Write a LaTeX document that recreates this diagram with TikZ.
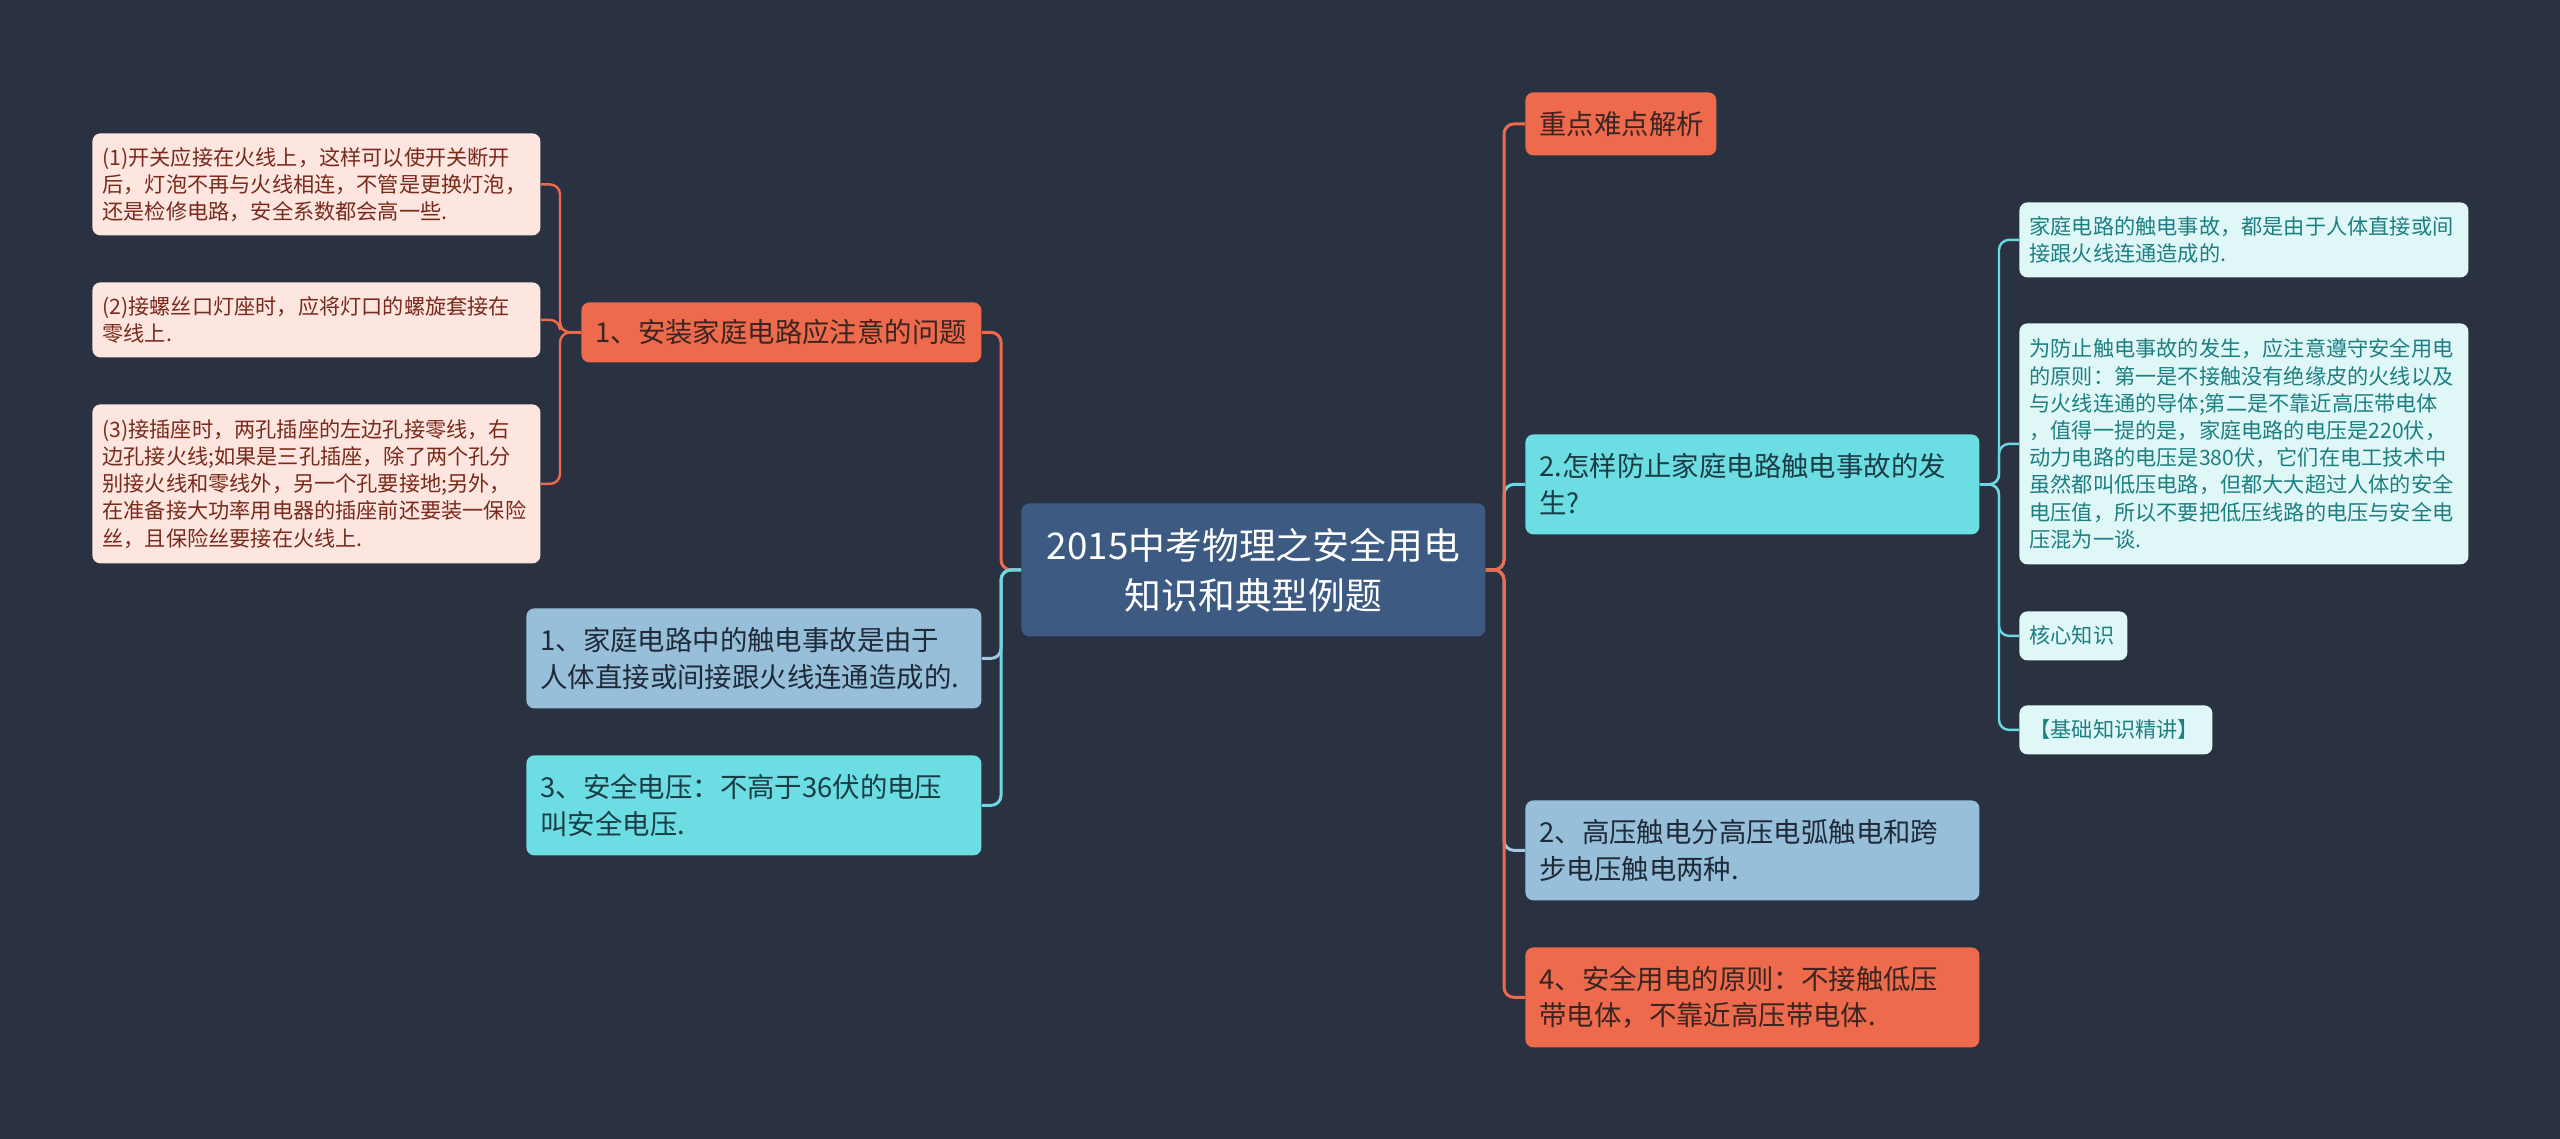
\documentclass[tikz,border=0pt]{standalone}
\usepackage{fontspec}
\setmainfont{Noto Sans CJK SC}
\definecolor{bgc}{HTML}{2A3140}
\definecolor{orangec}{HTML}{EE6A4D}
\definecolor{orangetxt}{HTML}{3A2520}
\definecolor{leafLfill}{HTML}{FDE6DF}
\definecolor{leafLtxt}{HTML}{7A2A1B}
\definecolor{lbluefill}{HTML}{98BFD9}
\definecolor{lbluetxt}{HTML}{1E2A38}
\definecolor{cyanfill}{HTML}{6BDDE3}
\definecolor{cyantxt}{HTML}{1A3C44}
\definecolor{leafRfill}{HTML}{E0F7F8}
\definecolor{leafRtxt}{HTML}{1C7F82}
\definecolor{rootfill}{HTML}{3D5B82}
\definecolor{cyanline}{HTML}{6CD8E2}
\definecolor{lblueline}{HTML}{A3C7DD}
\begin{document}
\begin{tikzpicture}[x=0.5pt,y=-0.5pt,
  box/.style={anchor=north west, rounded corners=4pt, align=left, inner ysep=0pt},
  rootbox/.style={box, fill=rootfill, text=white, align=center,
    font=\fontsize{18.4pt}{25pt}\selectfont},
  mainbox/.style={box, inner xsep=7pt, font=\fontsize{13.7pt}{18.4pt}\selectfont},
  orangebox/.style={mainbox, fill=orangec, text=orangetxt},
  lbluebox/.style={mainbox, fill=lbluefill, text=lbluetxt},
  cyanbox/.style={mainbox, fill=cyanfill, text=cyantxt},
  leafbox/.style={box, inner xsep=5pt, font=\fontsize{10.6pt}{13.6pt}\selectfont},
  leafL/.style={leafbox, fill=leafLfill, text=leafLtxt},
  leafR/.style={leafbox, fill=leafRfill, text=leafRtxt},
  conn/.style={line width=1.5pt, rounded corners=5pt},
  leafconn/.style={line width=1.2pt, rounded corners=5pt}
]
\fill[bgc] (0,0) rectangle (2560,1139);
\useasboundingbox (0,0) rectangle (2560,1139);

% root
\node[rootbox, minimum width=232pt, minimum height=66.5pt] (root) at (1021,503)
  {2015中考物理之安全用电\\知识和典型例题};

% left main branches
\node[orangebox, text width=186pt, minimum height=30pt] (A1) at (581,302)
  {1、安装家庭电路应注意的问题};
\node[lbluebox, text width=213.5pt, minimum height=50pt] (A2) at (526,608)
  {1、家庭电路中的触电事故是由于\\人体直接或间接跟火线连通造成的.};
\node[cyanbox, text width=213.5pt, minimum height=50pt] (A3) at (526,755)
  {3、安全电压：不高于36伏的电压\\叫安全电压.};

% left leaves
\node[leafL, text width=214pt, minimum height=51pt] (L1) at (92,133)
  {(1)开关应接在火线上，这样可以使开关断开\\后，灯泡不再与火线相连，不管是更换灯泡，\\还是检修电路，安全系数都会高一些.};
\node[leafL, text width=214pt, minimum height=37.5pt] (L2) at (92,282)
  {(2)接螺丝口灯座时，应将灯口的螺旋套接在\\零线上.};
\node[leafL, text width=214pt, minimum height=79.5pt] (L3) at (92,404)
  {(3)接插座时，两孔插座的左边孔接零线，右\\边孔接火线;如果是三孔插座，除了两个孔分\\别接火线和零线外，另一个孔要接地;另外，\\在准备接大功率用电器的插座前还要装一保险\\丝，且保险丝要接在火线上.};

% right main branches
\node[orangebox, text width=81.5pt, minimum height=31.5pt] (B1) at (1525,92)
  {重点难点解析};
\node[cyanbox, text width=213pt, minimum height=50pt] (B2) at (1525,434)
  {2.怎样防止家庭电路触电事故的发\\生?};
\node[lbluebox, text width=213pt, minimum height=50pt] (B3) at (1525,800)
  {2、高压触电分高压电弧触电和跨\\步电压触电两种.};
\node[orangebox, text width=213pt, minimum height=50pt] (B4) at (1525,947)
  {4、安全用电的原则：不接触低压\\带电体，不靠近高压带电体.};

% right leaves
\node[leafR, text width=214.5pt, minimum height=37.5pt] (R1) at (2019,202)
  {家庭电路的触电事故，都是由于人体直接或间\\接跟火线连通造成的.};
\node[leafR, text width=214.5pt, minimum height=120.5pt] (R2) at (2019,323)
  {为防止触电事故的发生，应注意遵守安全用电\\的原则：第一是不接触没有绝缘皮的火线以及\\与火线连通的导体;第二是不靠近高压带电体\\，值得一提的是，家庭电路的电压是220伏，\\动力电路的电压是380伏，它们在电工技术中\\虽然都叫低压电路，但都大大超过人体的安全\\电压值，所以不要把低压线路的电压与安全电\\压混为一谈.};
\node[leafR, text width=44pt, minimum height=24.5pt] (R3) at (2019,611)
  {核心知识};
\node[leafR, text width=86.5pt, minimum height=24.5pt] (R4) at (2019,705)
  {【基础知识精讲】};

% trunk coordinates
\coordinate (tl) at (1001,0);
\coordinate (tr) at (1504,0);
\coordinate (ll) at (560,0);
\coordinate (rl) at (1999,0);

% left connectors
\draw[conn, orangec] (root.west) -- (root.west -| tl) -- (tl |- A1.east) -- (A1.east);
\draw[conn, lblueline] (root.west) -- (root.west -| tl) -- (tl |- A2.east) -- (A2.east);
\draw[conn, cyanline] (root.west) -- (root.west -| tl) -- (tl |- A3.east) -- (A3.east);

% right connectors
\draw[conn, lblueline] (root.east) -- (root.east -| tr) -- (tr |- B3.west) -- (B3.west);
\draw[conn, cyanline] (root.east) -- (root.east -| tr) -- (tr |- B2.west) -- (B2.west);
\draw[conn, orangec] (root.east) -- (root.east -| tr) -- (tr |- B1.west) -- (B1.west);
\draw[conn, orangec] (root.east) -- (root.east -| tr) -- (tr |- B4.west) -- (B4.west);

% left leaf connectors
\foreach \n in {L1,L2,L3}
  \draw[leafconn, orangec] (A1.west) -- (A1.west -| ll) -- (ll |- \n.east) -- (\n.east);

% right leaf connectors
\foreach \n in {R1,R2,R3,R4}
  \draw[leafconn, cyanline] (B2.east) -- (B2.east -| rl) -- (rl |- \n.west) -- (\n.west);
\end{tikzpicture}
\end{document}
